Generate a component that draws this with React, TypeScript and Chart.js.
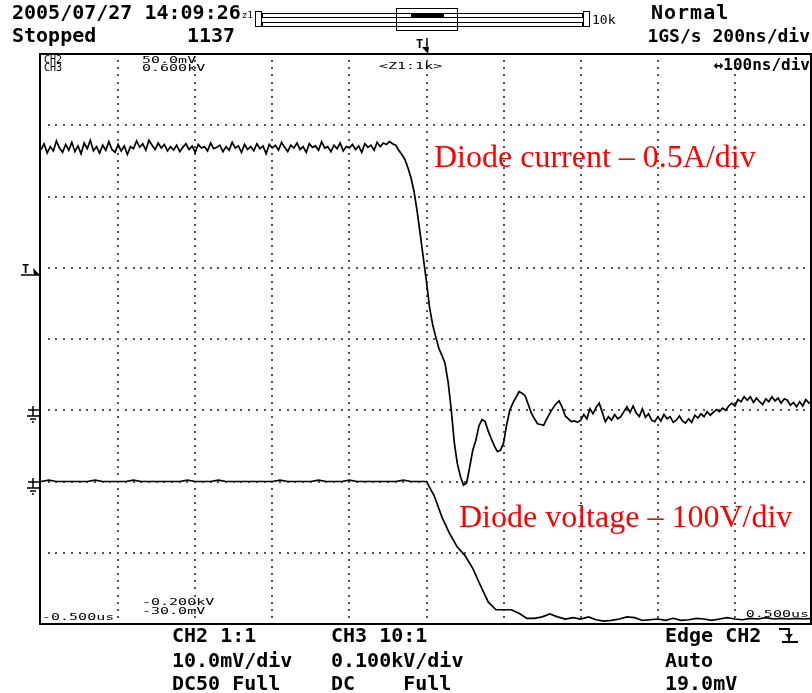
import React, { useEffect, useRef } from "react";
import { Chart, registerables } from "chart.js";

Chart.register(...registerables);

// ---- Axis definitions (oscilloscope settings) ----
const TIME_MIN_NS = -500;
const TIME_MAX_NS = 500;
const TIME_DIV_NS = 100;
const CH2_TOP_MV = 50;
const CH2_BOTTOM_MV = -30;
const CH2_DIV_MV = 10;
const CH3_TOP_KV = 0.6;
const CH3_BOTTOM_KV = -0.2;
const TRIGGER_LEVEL_MV = 19.0;
const TRIGGER_TIME_NS = 0;

// ---- CH2: diode current (mV on 50 ohm), sampled every 4 ns from -500 ns ----
const currentStartNs = -500;
const currentStepNs = 4;
const currentMv = [
  36.6, 37.4, 36.1, 37.0, 36.4, 37.8, 36.8, 36.2, 37.3, 36.5,
  37.6, 36.3, 37.1, 36.0, 37.5, 36.7, 37.9, 36.4, 37.0, 36.1,
  37.2, 36.5, 37.7, 36.6, 36.2, 37.3, 36.4, 37.1, 35.9, 37.0,
  36.7, 37.8, 36.9, 37.4, 36.5, 37.9, 37.2, 36.6, 37.5, 36.8,
  37.3, 36.4, 37.0, 36.5, 37.2, 36.3, 36.9, 37.4, 36.6, 37.1,
  36.2, 37.3, 36.8, 37.0, 36.4, 37.5, 36.7, 36.9, 37.2, 36.3,
  37.0, 36.5, 37.6, 36.8, 37.1, 36.2, 37.3, 36.6, 37.0, 36.4,
  37.4, 36.7, 37.1, 36.0, 37.3, 36.8, 37.2, 36.5, 37.6, 36.9,
  36.3, 37.2, 36.8, 37.5, 36.6, 37.0, 36.2, 37.4, 36.9, 37.1,
  36.5, 37.7, 36.8, 37.0, 36.3, 37.2, 36.7, 37.5, 36.4, 37.0,
  36.8, 37.3, 36.6, 37.1, 36.2, 37.4, 36.9, 37.2, 36.5, 37.6,
  37.0, 37.5, 37.3, 37.7, 37.4, 37.2, 36.5, 35.9, 35.2, 34.0,
  32.6, 30.6, 27.8, 24.6, 21.3, 18.0, 14.4, 12.0, 10.3, 8.7,
  7.7, 6.6, 4.0, 0.2, -4.5, -7.5, -9.3, -10.5, -10.2, -8.0,
  -5.6, -4.2, -2.2, -1.3, -1.6, -2.9, -4.0, -5.0, -5.8, -5.6,
  -4.6, -2.0, 0.0, 1.0, 1.8, 2.6, 2.4, 2.0, 0.8, -0.4,
  -1.2, -1.9, -2.0, -2.1, -1.2, -0.4, 0.3, 0.9, 1.3, 0.4,
  -0.8, -1.2, -1.6, -1.5, -1.7, -1.4, -0.6, -1.2, 0.2, -0.5,
  0.4, 1.0, -0.3, -1.6, -0.9, -1.4, -0.6, -1.2, -0.9, -0.2,
  0.5, -0.3, 0.6, -0.4, -0.9, 0.2, -1.0, -0.5, -1.4, -1.6,
  -0.9, -1.5, -0.6, -1.2, -0.9, -1.7, -1.4, -0.8, -1.5, -1.8,
  -1.2, -1.7, -0.7, -1.1, -0.5, -0.9, -0.2, -0.7, -0.3, 0.1,
  -0.2, 0.3, 0.0, 0.6, 1.0, 0.6, 1.5, 1.2, 1.9, 1.4,
  1.9, 1.1, 1.7, 1.2, 0.8, 1.6, 1.2, 1.9, 1.3, 1.7,
  1.0, 1.6, 1.4, 0.7, 1.1, 0.5, 1.2, 0.6, 1.5, 1.0,
  1.3,
];

// ---- CH3: diode voltage (kV), sampled every 10 ns from -500 ns ----
const voltageStartNs = -500;
const voltageStepNs = 10;
const voltageKv = [
  0, 0.002, 0, 0, 0, 0, 0, 0.002, 0, 0,
  0, 0, 0.002, 0, 0, 0, 0, 0, 0, 0.002,
  0, 0, 0, 0.002, 0, 0, 0, 0, 0, 0,
  0, 0.002, 0, 0, 0, 0, 0.002, 0, 0, 0,
  0.002, 0, 0, 0, 0, 0, 0, 0.002, 0, 0,
  0, -0.02, -0.05, -0.073, -0.092, -0.104, -0.122, -0.146, -0.169, -0.18,
  -0.18, -0.18, -0.185, -0.192, -0.192, -0.19, -0.186, -0.19, -0.193, -0.191,
  -0.193, -0.19, -0.194, -0.196, -0.195, -0.193, -0.19, -0.191, -0.195, -0.194,
  -0.193, -0.195, -0.192, -0.195, -0.194, -0.192, -0.193, -0.195, -0.193, -0.191,
  -0.193, -0.194, -0.192, -0.193, -0.191, -0.193, -0.192, -0.193, -0.192, -0.193,
  -0.192,
];

// ---- Screen text ----
const headerDate = "2005/07/27 14:09:26";
const headerState = "Stopped";
const headerCount = "1137";
const headerMode = "Normal";
const headerRate = "1GS/s 200ns/div";
const zoomRate = "\u2194100ns/div";
const zoomLabel = "<Z1:1k>";
const ch2Label = "CH2";
const ch3Label = "CH3";
const ch2TopLabel = "50.0mV";
const ch3TopLabel = "0.600kV";
const ch3BottomLabel = "-0.200kV";
const ch2BottomLabel = "-30.0mV";
const timeLeftLabel = "-0.500us";
const timeRightLabel = "0.500us";
const ch2Info = ["CH2 1:1", "10.0mV/div", "DC50 Full"];
const ch3Info = ["CH3 10:1", "0.100kV/div", "DC    Full"];
const trigInfo = ["Edge CH2", "Auto", "19.0mV"];
const currentNote = "Diode current \u2013 0.5A/div";
const voltageNote = "Diode voltage \u2013 100V/div";

const MONO = '"DejaVu Sans Mono", "Liberation Mono", monospace';
const SERIF = '"Liberation Serif", "Times New Roman", serif';

function smallText(ctx: CanvasRenderingContext2D, s: string, x: number, y: number, align: CanvasTextAlign = "left") {
  ctx.save();
  ctx.font = `15px ${MONO}`;
  ctx.textAlign = align;
  ctx.translate(x, y);
  ctx.scale(1, 0.6);
  ctx.fillText(s, 0, 0);
  ctx.restore();
}

function groundMark(ctx: CanvasRenderingContext2D, left: number, py: number) {
  ctx.save();
  ctx.strokeStyle = "#000";
  ctx.lineWidth = 1.5;
  ctx.beginPath();
  ctx.moveTo(left - 13, py);
  ctx.lineTo(left, py);
  ctx.moveTo(left - 8, py - 4);
  ctx.lineTo(left - 8, py + 6);
  ctx.moveTo(left - 14, py + 6);
  ctx.lineTo(left - 2, py + 6);
  ctx.moveTo(left - 11, py + 9);
  ctx.lineTo(left - 5, py + 9);
  ctx.moveTo(left - 9, py + 12);
  ctx.lineTo(left - 7, py + 12);
  ctx.stroke();
  ctx.restore();
}

const scopePlugin = {
  id: "scopeScreen",
  beforeDatasetsDraw(chart: any) {
    const ctx: CanvasRenderingContext2D = chart.ctx;
    const xs = chart.scales.x;
    const ys = chart.scales.y;
    ctx.save();
    ctx.fillStyle = "#555";
    const nTimeDiv = (TIME_MAX_NS - TIME_MIN_NS) / TIME_DIV_NS;
    const nVoltDiv = (CH2_TOP_MV - CH2_BOTTOM_MV) / CH2_DIV_MV;
    for (let i = 1; i < nTimeDiv; i++) {
      const px = Math.round(xs.getPixelForValue(TIME_MIN_NS + i * TIME_DIV_NS));
      for (let k = 1; k < nVoltDiv * 10; k++) {
        const py = Math.round(ys.getPixelForValue(CH2_BOTTOM_MV + (k * CH2_DIV_MV) / 10));
        ctx.fillRect(px - 1, py - 1, 2, 2);
      }
    }
    for (let j = 1; j < nVoltDiv; j++) {
      const py = Math.round(ys.getPixelForValue(CH2_BOTTOM_MV + j * CH2_DIV_MV));
      for (let k = 1; k < nTimeDiv * 10; k++) {
        const px = Math.round(xs.getPixelForValue(TIME_MIN_NS + (k * TIME_DIV_NS) / 10));
        ctx.fillRect(px - 1, py - 1, 2, 2);
      }
    }
    ctx.restore();
  },
  afterDraw(chart: any) {
    const ctx: CanvasRenderingContext2D = chart.ctx;
    const { left, right, top, bottom } = chart.chartArea;
    const xs = chart.scales.x;
    const ys = chart.scales.y;
    const y2 = chart.scales.y2;
    ctx.save();
    ctx.fillStyle = "#000";
    ctx.strokeStyle = "#000";
    // frame
    ctx.fillRect(left - 2, top - 1, right - left + 2, 2);
    ctx.fillRect(left - 2, top - 1, 2, bottom - top + 2);
    ctx.fillRect(left - 2, bottom - 1, right - left + 2, 2);
    ctx.fillRect(right - 2, top - 1, 2, bottom - top + 2);

    // header
    ctx.textBaseline = "alphabetic";
    ctx.font = `bold 20px ${MONO}`;
    ctx.textAlign = "left";
    ctx.fillText(headerDate, 12, 19);
    ctx.fillText(headerState, 12, 42);
    ctx.fillText(headerCount, 187, 42);
    (ctx as any).letterSpacing = "1px";
    ctx.fillText(headerMode, 651, 19);
    (ctx as any).letterSpacing = "0px";
    ctx.font = `bold 18px ${MONO}`;
    ctx.textAlign = "right";
    ctx.fillText(headerRate, 810, 42);

    // zoom bar
    ctx.font = `9px ${MONO}`;
    ctx.textAlign = "left";
    ctx.fillText("z1", 242, 18);
    ctx.lineWidth = 1;
    ctx.strokeRect(255.5, 11.5, 6, 15);
    ctx.strokeRect(262.5, 13.5, 134, 4);
    ctx.strokeRect(262.5, 22.5, 134, 4);
    ctx.strokeRect(457.5, 13.5, 125, 4);
    ctx.strokeRect(457.5, 22.5, 125, 4);
    ctx.strokeRect(583.5, 11.5, 6, 15);
    ctx.strokeRect(396.5, 8.5, 61, 22);
    ctx.strokeRect(396.5, 13.5, 61, 4);
    ctx.strokeRect(396.5, 22.5, 61, 4);
    ctx.fillRect(411, 13, 33, 5);
    ctx.font = `13px ${MONO}`;
    ctx.fillText("10k", 592, 24);

    // trigger position marker (top)
    const tpx = Math.round(xs.getPixelForValue(TRIGGER_TIME_NS));
    ctx.font = `bold 12px ${MONO}`;
    ctx.fillText("T", tpx - 11, 48);
    ctx.lineWidth = 1.5;
    ctx.beginPath();
    ctx.moveTo(tpx, 38);
    ctx.lineTo(tpx, 48);
    ctx.stroke();
    ctx.beginPath();
    ctx.moveTo(tpx - 5, 47);
    ctx.lineTo(tpx + 2, 47);
    ctx.lineTo(tpx + 1, 54);
    ctx.closePath();
    ctx.fill();

    // trigger level marker (left)
    const tly = Math.round(ys.getPixelForValue(TRIGGER_LEVEL_MV));
    ctx.font = `bold 12px ${MONO}`;
    ctx.fillText("T", 22, tly - 2);
    ctx.beginPath();
    ctx.moveTo(21, tly);
    ctx.lineTo(left, tly);
    ctx.stroke();
    ctx.beginPath();
    ctx.moveTo(left - 8, tly - 7);
    ctx.lineTo(left - 1, tly);
    ctx.lineTo(left - 7, tly);
    ctx.closePath();
    ctx.fill();

    // ground markers
    groundMark(ctx, left, Math.round(ys.getPixelForValue(0)));
    groundMark(ctx, left, Math.round(y2.getPixelForValue(0)));

    // in-grid labels
    ctx.fillStyle = "#000";
    ctx.font = `10px ${MONO}`;
    ctx.textAlign = "left";
    ctx.fillText(ch2Label, 44, 63);
    ctx.fillText(ch3Label, 44, 71);
    smallText(ctx, ch2TopLabel, 142, 63);
    smallText(ctx, ch3TopLabel, 142, 71);
    smallText(ctx, zoomLabel, 379, 69);
    smallText(ctx, ch3BottomLabel, 142, 605);
    smallText(ctx, ch2BottomLabel, 142, 614);
    smallText(ctx, timeLeftLabel, 42, 620);
    smallText(ctx, timeRightLabel, 809, 617, "right");
    ctx.font = `bold 16px ${MONO}`;
    ctx.textAlign = "right";
    ctx.fillText(zoomRate, 810, 70);

    // bottom info
    ctx.font = `bold 20px ${MONO}`;
    ctx.textAlign = "left";
    const rows = [642, 667, 690];
    rows.forEach((by, i) => {
      ctx.fillText(ch2Info[i], 172, by);
      ctx.fillText(ch3Info[i], 331, by);
      ctx.fillText(trigInfo[i], 665, by);
    });
    // falling edge symbol
    ctx.lineWidth = 1.8;
    ctx.beginPath();
    ctx.moveTo(779, 629);
    ctx.lineTo(789, 629);
    ctx.lineTo(789, 642);
    ctx.moveTo(782, 642);
    ctx.lineTo(798, 642);
    ctx.stroke();
    ctx.beginPath();
    ctx.moveTo(785, 634);
    ctx.lineTo(793, 634);
    ctx.lineTo(789, 639);
    ctx.closePath();
    ctx.fill();

    // annotations
    ctx.fillStyle = "#ff0000";
    ctx.font = `32px ${SERIF}`;
    ctx.textAlign = "left";
    ctx.fillText(currentNote, 434, 167);
    ctx.fillText(voltageNote, 459, 527);
    ctx.restore();
  },
};

export default function App() {
  const canvasRef = useRef<HTMLCanvasElement | null>(null);

  useEffect(() => {
    if (!canvasRef.current) return;
    const currentData = currentMv.map((v, i) => ({ x: currentStartNs + i * currentStepNs, y: v }));
    const voltageData = voltageKv.map((v, i) => ({ x: voltageStartNs + i * voltageStepNs, y: v }));
    const chart = new Chart(canvasRef.current, {
      type: "line",
      data: {
        datasets: [
          {
            label: "Diode current",
            data: currentData,
            yAxisID: "y",
            borderColor: "#000",
            borderWidth: 1.7,
            pointRadius: 0,
            tension: 0,
            fill: false,
          },
          {
            label: "Diode voltage",
            data: voltageData,
            yAxisID: "y2",
            borderColor: "#000",
            borderWidth: 1.7,
            pointRadius: 0,
            tension: 0,
            fill: false,
          },
        ],
      },
      options: {
        responsive: false,
        animation: false,
        devicePixelRatio: 1,
        events: [],
        layout: { padding: { left: 41, top: 54, right: 0, bottom: 69 } },
        scales: {
          x: { type: "linear", min: TIME_MIN_NS, max: TIME_MAX_NS, display: false },
          y: { type: "linear", min: CH2_BOTTOM_MV, max: CH2_TOP_MV, display: false },
          y2: { type: "linear", min: CH3_BOTTOM_KV, max: CH3_TOP_KV, display: false },
        },
        plugins: {
          legend: { display: false },
          tooltip: { enabled: false },
        },
      },
      plugins: [scopePlugin],
    } as any);
    return () => chart.destroy();
  }, []);

  return (
    <div style={{ position: "absolute", left: 0, top: 0, width: 812, height: 693, background: "#fff" }}>
      <canvas ref={canvasRef} width={812} height={693} style={{ display: "block", width: 812, height: 693 }} />
    </div>
  );
}
